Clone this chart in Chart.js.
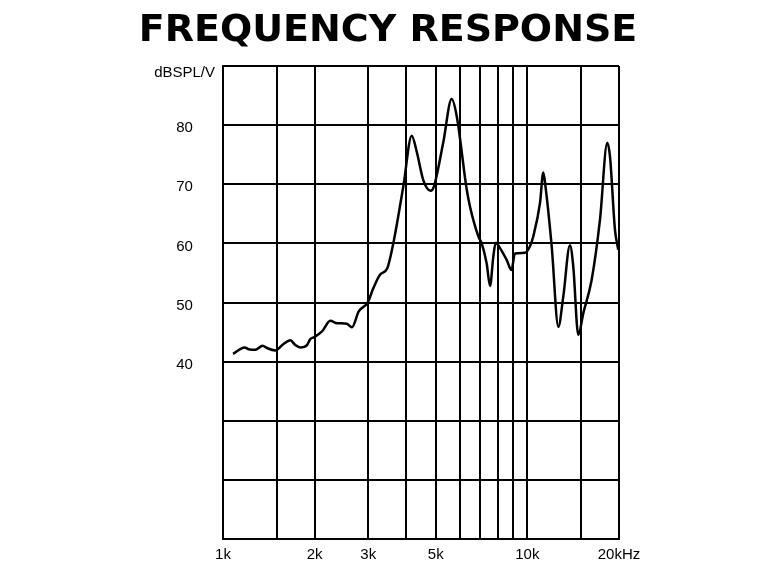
<!DOCTYPE html>
<html>
<head>
<meta charset="utf-8">
<script src="https://cdn.jsdelivr.net/npm/chart.js@4/dist/chart.umd.min.js"></script>
<style>
  html, body { margin: 0; padding: 0; background: #fff; }
  #wrap { width: 770px; height: 573px; }
</style>
</head>
<body>
<div id="wrap"><canvas id="chart" width="770" height="573"></canvas></div>
<script>
// =======================
// DATA
// =======================
const freqHz = [
  1079, 1178, 1215, 1277, 1350, 1395, 1485, 1574, 1664, 1728,
  1795, 1888, 1935, 1986, 2115, 2252, 2369, 2554, 2652, 2792,
  2988, 3117, 3280, 3466, 3627, 3911, 4170, 4330, 4550, 4810,
  4930, 5290, 5640, 5860, 6320, 6480, 6900, 7080, 7350, 7540,
  7730, 7870, 8130, 8550, 8870, 9100, 9820, 10200, 10460, 11000,
  11280, 11470, 12020, 12640, 13120, 13800, 14150, 14700, 15270, 16260,
  17320, 18300, 18680, 19400, 19890
];
const splDb = [
  41.3, 42.4, 42.1, 42.0, 42.7, 42.3, 41.9, 42.9, 43.6, 42.8,
  42.4, 42.8, 43.8, 44.1, 45.1, 46.9, 46.5, 46.4, 45.8, 48.5,
  50.0, 52.4, 54.7, 55.8, 60.0, 69.6, 78.2, 75.5, 70.7, 68.9,
  69.6, 77.0, 84.4, 81.5, 69.1, 66.2, 61.2, 60.0, 56.6, 52.8,
  57.8, 60.1, 59.2, 57.2, 55.5, 58.3, 58.4, 59.5, 61.2, 66.8,
  72.0, 69.6, 59.5, 45.9, 51.0, 59.7, 56.1, 44.5, 48.2, 53.8,
  64.0, 77.0, 74.7, 62.3, 58.9
];

// grid positions and tick labels
const xTickValues = [1000, 1500, 2000, 3000, 4000, 5000, 6000, 7000, 8000, 9000, 10000, 15000, 20000];
const xTickLabels = ['1k', '', '2k', '3k', '', '5k', '', '', '', '', '10k', '', '20kHz'];
const yTickValues = [10, 20, 30, 40, 50, 60, 70, 80, 90];
const yTickLabels = ['', '', '', '40', '50', '60', '70', '80', 'dBSPL/V'];

const points = freqHz.map((f, i) => ({ x: f, y: splDb[i] }));

const FONT = "'Liberation Sans', Arial, sans-serif";

// =======================
// CHART
// =======================
const ctx = document.getElementById('chart').getContext('2d');

new Chart(ctx, {
  type: 'line',
  data: {
    datasets: [{
      data: points,
      borderColor: '#000',
      borderWidth: 2.5,
      pointRadius: 0,
      cubicInterpolationMode: 'monotone',
      fill: false
    }]
  },
  options: {
    responsive: false,
    animation: false,
    layout: {
      padding: { left: 103, right: 97, top: 0, bottom: 2 }
    },
    plugins: {
      legend: { display: false },
      tooltip: { enabled: false },
      title: {
        display: true,
        text: 'FREQUENCY RESPONSE',
        color: '#000',
        font: { family: "'DejaVu Sans', sans-serif", size: 38, weight: 'bold', lineHeight: 1 },
        padding: { top: 12, bottom: 16 }
      }
    },
    scales: {
      x: {
        type: 'logarithmic',
        min: 1000,
        max: 20000,
        afterBuildTicks: (scale) => {
          scale.ticks = xTickValues.map(v => ({ value: v }));
        },
        ticks: {
          autoSkip: false,
          maxRotation: 0,
          padding: 7,
          color: '#000',
          font: { family: FONT, size: 15 },
          callback: (value) => {
            const i = xTickValues.indexOf(value);
            return i >= 0 ? xTickLabels[i] : '';
          }
        },
        grid: { color: '#000', lineWidth: 2, drawTicks: false },
        border: { color: '#000', width: 2 }
      },
      y: {
        min: 10,
        max: 90,
        afterBuildTicks: (scale) => {
          scale.ticks = yTickValues.map(v => ({ value: v }));
        },
        afterFit: (scale) => { scale.width = 120; },
        ticks: {
          autoSkip: false,
          padding: 8,
          crossAlign: 'center',
          color: '#000',
          // labels sit a little below their grid lines (unit label more so)
          font: (c) => ({
            family: FONT,
            size: 15,
            lineHeight: c.index === yTickValues.length - 1 ? 0.93 : 0.4
          }),
          callback: (value) => {
            const i = yTickValues.indexOf(value);
            return i >= 0 && yTickLabels[i] ? ['', yTickLabels[i]] : '';
          }
        },
        grid: { color: '#000', lineWidth: 2, drawTicks: false },
        border: { color: '#000', width: 2 }
      },
      // empty right-hand spacer so the plot keeps its right margin
      yRight: {
        position: 'right',
        min: 10,
        max: 90,
        afterFit: (scale) => { scale.width = 54; },
        ticks: { display: false },
        grid: { display: false, drawOnChartArea: false },
        border: { display: false }
      }
    }
  }
});
</script>
</body>
</html>
